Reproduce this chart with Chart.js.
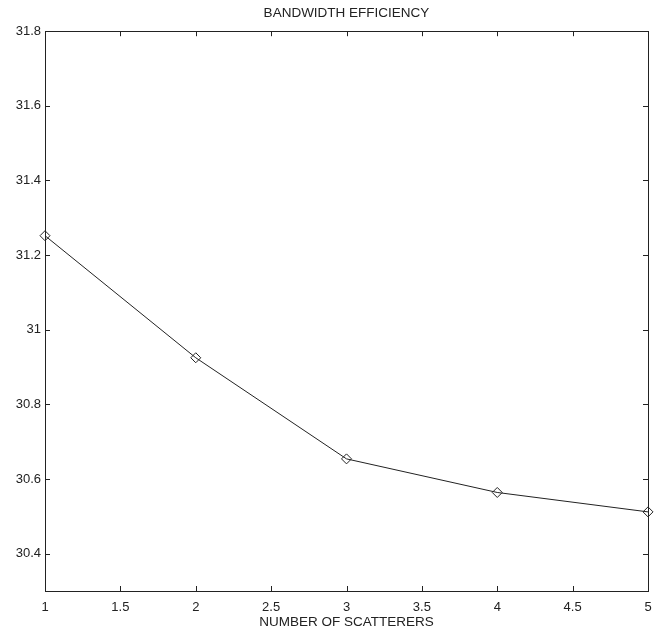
<!DOCTYPE html>
<html>
<head>
<meta charset="utf-8">
<script src="https://cdn.jsdelivr.net/npm/chart.js@4/dist/chart.umd.min.js"></script>
<style>
  html, body { margin: 0; padding: 0; background: #ffffff; }
  #wrap { width: 654px; height: 635px; }
</style>
</head>
<body>
<div id="wrap"><canvas id="c" width="654" height="635"></canvas></div>
<script>
const scatterers = [1, 2, 3, 4, 5];
const efficiency = [31.252, 30.925, 30.654, 30.564, 30.512];
const xTicks = [1, 1.5, 2, 2.5, 3, 3.5, 4, 4.5, 5];
const yTicks = [30.4, 30.6, 30.8, 31, 31.2, 31.4, 31.6, 31.8];
const titleText = 'BANDWIDTH EFFICIENCY';
const xTitle = 'NUMBER OF SCATTERERS';

const ink = '#222222';
const fontFamily = '"Liberation Sans", Arial, Helvetica, sans-serif';

const boxTicks = {
  id: 'boxTicks',
  beforeDatasetsDraw(chart) {
    const { ctx, chartArea: a, scales } = chart;
    const len = 5;
    ctx.save();
    ctx.strokeStyle = ink;
    ctx.lineWidth = 1;
    ctx.strokeRect(Math.round(a.left) + 0.5, Math.round(a.top) + 0.5,
                   Math.round(a.right - a.left), Math.round(a.bottom - a.top));
    ctx.beginPath();
    xTicks.forEach(v => {
      const px = Math.round(scales.x.getPixelForValue(v)) + 0.5;
      ctx.moveTo(px, a.bottom); ctx.lineTo(px, a.bottom - len);
      ctx.moveTo(px, a.top); ctx.lineTo(px, a.top + len);
    });
    yTicks.forEach(v => {
      const py = Math.round(scales.y.getPixelForValue(v)) + 0.5;
      ctx.moveTo(a.left, py); ctx.lineTo(a.left + len, py);
      ctx.moveTo(a.right, py); ctx.lineTo(a.right - len, py);
    });
    ctx.stroke();
    ctx.restore();
  }
};

new Chart(document.getElementById('c'), {
  type: 'line',
  data: {
    datasets: [{
      data: scatterers.map((x, i) => ({ x: x, y: efficiency[i] })),
      borderColor: ink,
      borderWidth: 1,
      backgroundColor: 'rgba(0,0,0,0)',
      pointStyle: 'rectRot',
      pointRadius: 5,
      pointBorderWidth: 1,
      pointBorderColor: ink,
      pointBackgroundColor: 'rgba(0,0,0,0)',
      tension: 0,
      clip: false
    }]
  },
  plugins: [boxTicks],
  options: {
    responsive: false,
    animation: false,
    layout: { padding: { left: 0, right: 4, top: 0, bottom: 0 } },
    plugins: {
      legend: { display: false },
      tooltip: { enabled: false },
      title: {
        display: true,
        fullSize: false,
        text: titleText,
        color: ink,
        font: { family: fontFamily, size: 13.5, weight: 'normal' },
        padding: { top: 5, bottom: 10 }
      }
    },
    scales: {
      x: {
        type: 'linear',
        min: 1, max: 5,
        afterBuildTicks: s => { s.ticks = xTicks.map(v => ({ value: v })); },
        afterFit: s => { s.height = 44; s.paddingLeft = 0; s.paddingRight = 0; },
        grid: { display: false, drawTicks: false },
        border: { display: false },
        ticks: {
          color: ink, padding: 9, maxRotation: 0, autoSkip: false,
          font: { family: fontFamily, size: 13 },
          callback: v => String(v)
        },
        title: {
          display: true, text: xTitle, color: ink,
          font: { family: fontFamily, size: 13.5 },
          padding: { top: 0, bottom: 5 }
        }
      },
      y: {
        type: 'linear',
        min: 30.3, max: 31.8,
        afterBuildTicks: s => { s.ticks = yTicks.map(v => ({ value: v })); },
        afterFit: s => { s.width = 45; s.paddingTop = 0; s.paddingBottom = 0; },
        grid: { display: false, drawTicks: false },
        border: { display: false },
        ticks: {
          color: ink, padding: 4, autoSkip: false,
          font: { family: fontFamily, size: 13 },
          callback: v => String(Number(v.toFixed(1)))
        }
      }
    }
  }
});
</script>
</body>
</html>
